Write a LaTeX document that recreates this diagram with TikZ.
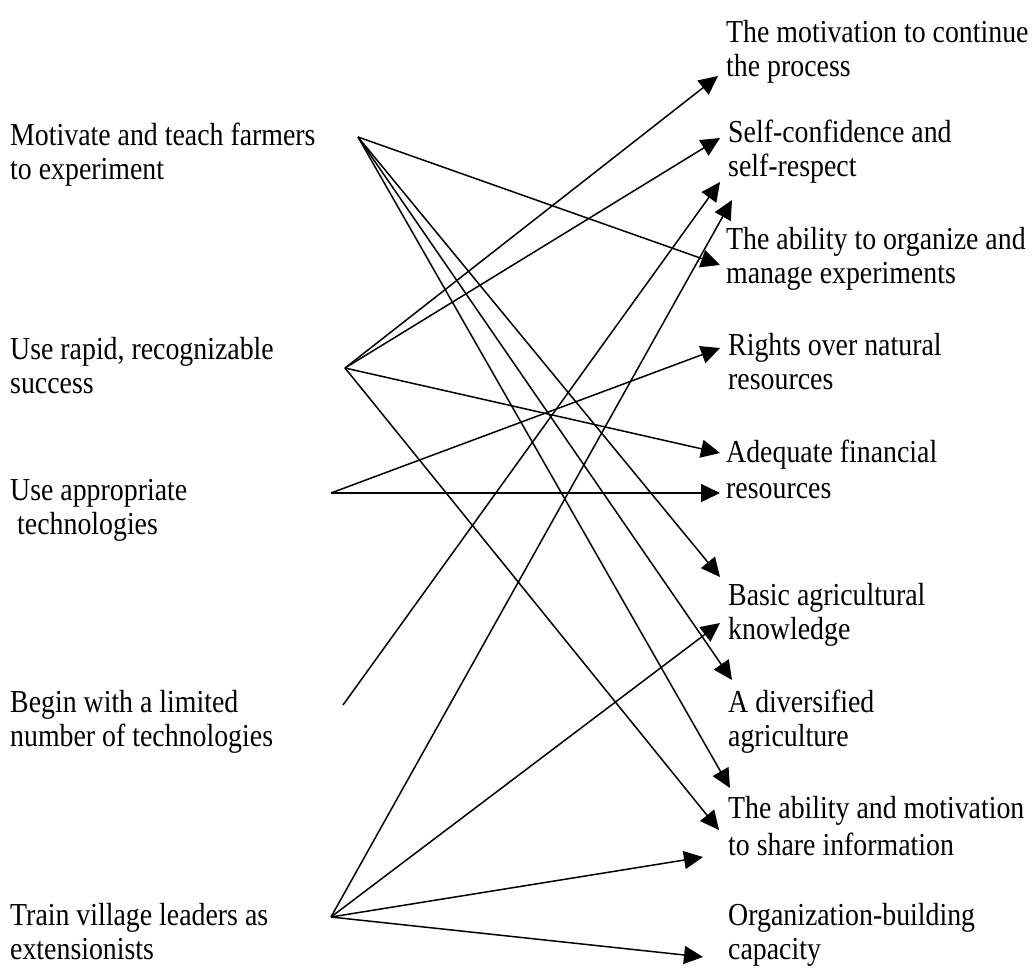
\documentclass[tikz,border=0pt]{standalone}
\usepackage{fontspec}
\setmainfont{Liberation Serif}[FakeStretch=0.87]
\usetikzlibrary{arrows.meta}

\begin{document}
\begin{tikzpicture}[
  x=1pt, y=-1pt,
  lbl/.style={anchor=north west, inner sep=0pt, yshift=23.8pt, align=left,
              font=\fontsize{32}{34}\selectfont},
  link/.style={line width=1.5pt},
  arrow/.style={link, -{Triangle[length=19pt, width=18pt]}},
]
  \useasboundingbox (0,0) rectangle (1033,967);

  % strategies (left)
  \node[lbl] (teach)   at (10,145) {\strut Motivate and teach farmers\\\strut to experiment};
  \node[lbl] (rapid)   at (10,359) {\strut Use rapid, recognizable\\\strut success};
  \node[lbl] (approp)  at (10,500) {\strut Use appropriate\\\strut\hspace{7pt}technologies};
  \node[lbl] (limited) at (10,712) {\strut Begin with a limited\\\strut number of technologies};
  \node[lbl] (leaders) at (10,925) {\strut Train village leaders as\\\strut extensionists};

  % outcomes (right)
  \node[lbl] (continue)   at (726,42)  {\strut The motivation to continue\\\strut the process};
  \node[lbl] (confidence) at (728,142) {\strut Self-confidence and\\\strut self-respect};
  \node[lbl] (organize)   at (726,249) {\strut The ability to organize and\\\strut manage experiments};
  \node[lbl] (rights)     at (728,355) {\strut Rights over natural\\\strut resources};
  \node[lbl] (finance)    at (726,462) {\strut Adequate financial\\[2pt]\strut resources};
  \node[lbl] (knowledge)  at (728,605) {\strut Basic agricultural\\\strut knowledge};
  \node[lbl] (diverse)    at (728,712) {\strut A diversified\\\strut agriculture};
  \node[lbl] (share)      at (728,818) {\strut The ability and motivation\\[3pt]\strut to share information};
  \node[lbl] (capacity)   at (728,925) {\strut Organization-building\\\strut capacity};

  % line ends
  \coordinate (teach-out)   at (358,137);
  \coordinate (rapid-out)   at (345,368);
  \coordinate (approp-out)  at (331,493);
  \coordinate (limited-out) at (343,705);
  \coordinate (leaders-out) at (331,917);

  \coordinate (continue-in)    at (718,76);
  \coordinate (confidence-in)  at (720,138);
  \coordinate (respect-in)     at (720,182);
  \coordinate (respect-in2)    at (732,200);
  \coordinate (organize-in)    at (720,265);
  \coordinate (rights-in)      at (720,348);
  \coordinate (finance-in)     at (720,453);
  \coordinate (finance-in2)    at (720,493);
  \coordinate (knowledge-in)   at (720,577);
  \coordinate (knowledge-in2)  at (720,623);
  \coordinate (diverse-in)     at (732,680);
  \coordinate (share-in)       at (730,788);
  \coordinate (share-in2)      at (719,830);
  \coordinate (share-in3)      at (703,857);
  \coordinate (capacity-in)    at (703,957);

  % links
  \draw[arrow] (teach-out) -- (organize-in);
  \draw[arrow] (teach-out) -- (knowledge-in);
  \draw[arrow] (teach-out) -- (diverse-in);
  \draw[arrow] (teach-out) -- (share-in);

  \draw[arrow] (rapid-out) -- (continue-in);
  \draw[arrow] (rapid-out) -- (confidence-in);
  \draw[arrow] (rapid-out) -- (finance-in);
  \draw[arrow] (rapid-out) -- (share-in2);

  \draw[arrow] (approp-out) -- (rights-in);
  \draw[arrow] (approp-out) -- (finance-in2);

  \draw[arrow] (limited-out) -- (respect-in);

  \draw[arrow] (leaders-out) -- (respect-in2);
  \draw[arrow] (leaders-out) -- (knowledge-in2);
  \draw[arrow] (leaders-out) -- (share-in3);
  \draw[arrow] (leaders-out) -- (capacity-in);
\end{tikzpicture}
\end{document}
